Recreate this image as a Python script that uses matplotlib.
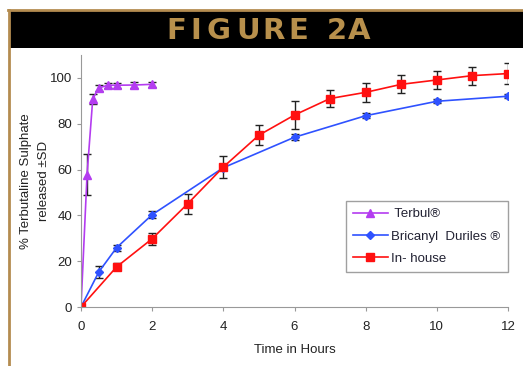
import numpy as np
import matplotlib.pyplot as plt
from matplotlib.patches import Rectangle
from matplotlib.lines import Line2D

plt.rcParams['font.family'] = ['Liberation Sans', 'DejaVu Sans']

# Release data (% terbutaline sulphate released, mean and SD)
terbul_t = [0, 0.17, 0.33, 0.5, 0.75, 1.0, 1.5, 2.0]
terbul_y = [0, 57.8, 90.8, 95.6, 96.8, 96.8, 96.9, 97.2]
terbul_sd = [0, 9.0, 2.0, 1.5, 1.0, 1.0, 1.2, 1.2]

bricanyl_t = [0, 0.5, 1, 2, 4, 6, 8, 10, 12]
bricanyl_y = [0, 15.3, 25.9, 40.3, 60.8, 74.1, 83.5, 89.8, 92.0]
bricanyl_sd = [0, 2.7, 1.3, 1.5, 1.0, 1.2, 1.0, 0.8, 0.8]

inhouse_t = [0, 1, 2, 3, 4, 5, 6, 7, 8, 9, 10, 11, 12]
inhouse_y = [0, 17.5, 29.8, 45.1, 61.1, 75.0, 83.8, 91.0, 93.7, 97.2, 99.1, 101.0, 101.9]
inhouse_sd = [0, 1.5, 2.7, 4.3, 4.7, 4.5, 6.2, 3.8, 4.1, 4.0, 4.0, 3.9, 4.6]

title_chars = 'FIGURE2A'
title_x = [176, 196, 218, 248, 274, 298, 337, 359]  # letter centres, px

gold = '#B48C50'
purple = '#B43CF0'
blue = '#2F52FF'
red = '#FF1010'

fig = plt.figure(figsize=(5.23, 3.66), dpi=100)

# page frame and title band
fig.add_artist(Line2D([8/523, 1], [1-10/366, 1-10/366], color=gold, lw=2))
fig.add_artist(Line2D([9/523, 9/523], [0, 1-10/366], color=gold, lw=2))
fig.add_artist(Rectangle((10/523, 1-48/366), 1, 37/366, color='black', lw=0))
for ch, xp in zip(title_chars, title_x):
    fig.text(xp/523, 1-31/366, ch, color='#B8904C', fontsize=21,
             fontweight='bold', ha='center', va='center',
             family=['Liberation Sans Narrow', 'DejaVu Sans'])

ax = fig.add_axes([81/523, 1-307/366, 427/523, 252/366])

ekw = dict(ecolor='#222222', elinewidth=1, capsize=3, capthick=1)
ax.errorbar(terbul_t, terbul_y, yerr=terbul_sd, color=purple, marker='^',
            ms=6, lw=1.2, label=' Terbul®', **ekw)
ax.errorbar(bricanyl_t, bricanyl_y, yerr=bricanyl_sd, color=blue, marker='D',
            ms=4.5, lw=1.2, label='Bricanyl  Duriles ®', **ekw)
ax.errorbar(inhouse_t, inhouse_y, yerr=inhouse_sd, color=red, marker='s',
            ms=6, lw=1.2, label='In- house', **ekw)

ax.set_xlim(0, 12)
ax.set_ylim(0, 110)
ax.set_xticks(range(0, 13, 2))
ax.set_yticks(range(0, 101, 20))
ax.spines[['top', 'right']].set_visible(False)
for s in ['left', 'bottom']:
    ax.spines[s].set_color('#999999')
ax.tick_params(colors='#999999', labelcolor='#222222', labelsize=9.5, length=3)
ax.xaxis.set_tick_params(pad=7)
ax.set_xlabel('Time in Hours', fontsize=9.5, color='#222222', labelpad=8)
ax.set_ylabel('% Terbutaline Sulphate\nreleased ±SD', fontsize=9.5,
              color='#222222', labelpad=0, linespacing=1.6)

handles, labels = ax.get_legend_handles_labels()
leg = ax.legend([h[0] for h in handles], labels, loc='lower right',
                bbox_to_anchor=(1.0, 0.139), borderaxespad=0, fontsize=9.5,
                frameon=True, fancybox=False, edgecolor='#888888',
                handlelength=2.6, handletextpad=0.3, borderpad=0.55,
                labelspacing=0.75)
leg.get_frame().set_linewidth(1)
for t in leg.get_texts():
    t.set_color('#222233')

fig.savefig('out.png', dpi=100)
